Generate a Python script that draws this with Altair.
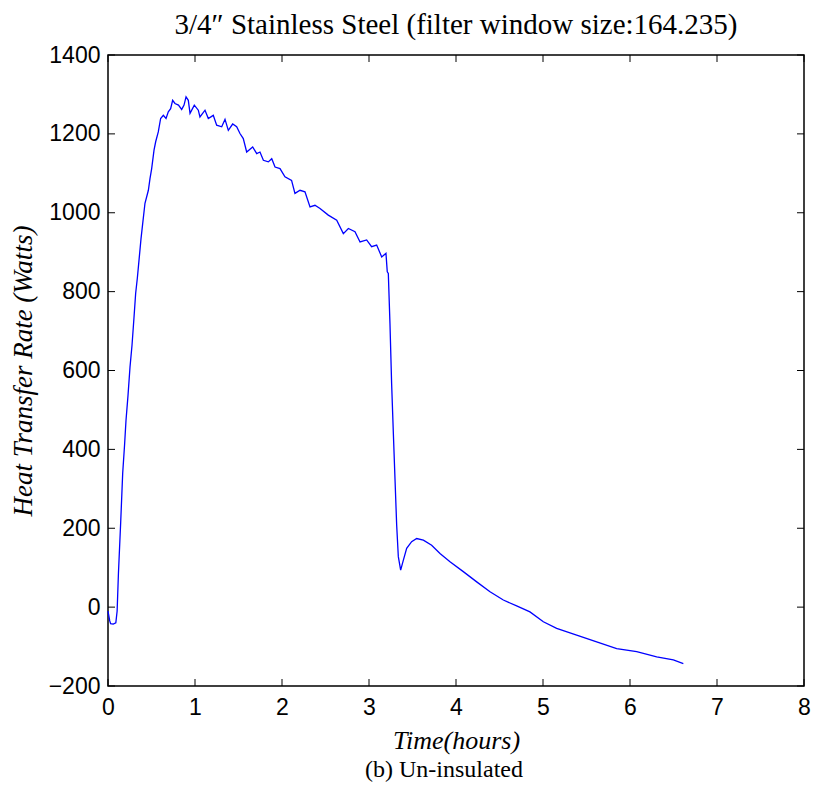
import altair as alt
import pandas as pd

time_h = [0.0, 0.02, 0.03, 0.06, 0.09, 0.105, 0.12, 0.146, 0.169, 0.19, 0.207, 0.23, 0.253,
          0.276, 0.299, 0.318, 0.337, 0.36, 0.379, 0.399, 0.425, 0.464, 0.483, 0.502, 0.529,
          0.548, 0.578, 0.605, 0.636, 0.667, 0.693, 0.72, 0.743, 0.77, 0.81, 0.847, 0.874,
          0.897, 0.923, 0.943, 0.992, 1.038, 1.057, 1.115, 1.153, 1.21, 1.249, 1.307, 1.345,
          1.383, 1.433, 1.479, 1.517, 1.555, 1.594, 1.663, 1.709, 1.747, 1.786, 1.843, 1.882,
          1.92, 1.977, 2.034, 2.11, 2.149, 2.207, 2.264, 2.322, 2.379, 2.437, 2.532, 2.629,
          2.705, 2.763, 2.839, 2.897, 2.973, 3.03, 3.088, 3.146, 3.195, 3.21, 3.222, 3.241,
          3.26, 3.28, 3.3, 3.318, 3.337, 3.364, 3.395, 3.433, 3.49, 3.548, 3.625, 3.72, 3.816,
          3.931, 4.084, 4.238, 4.391, 4.544, 4.697, 4.85, 5.004, 5.157, 5.387, 5.617, 5.847,
          6.077, 6.307, 6.498, 6.613]
heat_w = [-10, -35, -42, -43, -40, -10, 86, 216, 340, 410, 474, 537, 609,
          664, 735, 796, 834, 888, 933, 973, 1024, 1057, 1087, 1112, 1159,
          1180, 1205, 1239, 1247, 1239, 1256, 1264, 1285, 1277, 1273, 1262, 1273,
          1294, 1285, 1252, 1273, 1260, 1243, 1260, 1239, 1247, 1222, 1218, 1237,
          1209, 1225, 1218, 1201, 1188, 1154, 1167, 1150, 1154, 1133, 1129, 1137,
          1116, 1112, 1091, 1082, 1049, 1057, 1053, 1015, 1019, 1011, 994, 981,
          947, 960, 952, 926, 931, 914, 918, 888, 897, 850, 846, 719,
          567, 440, 318, 208, 128, 94, 119, 149, 166, 174, 170, 157, 136,
          115, 90, 64, 39, 18, 3, -12, -37, -54, -71, -88, -105,
          -113, -126, -134, -143]

x_ticks = [0, 1, 2, 3, 4, 5, 6, 7, 8]
y_ticks = [-200, 0, 200, 400, 600, 800, 1000, 1200, 1400]

title_text = "3/4\u2033 Stainless Steel (filter window size:164.235)"
x_title = "Time(hours)"
y_title = "Heat Transfer Rate (Watts)"
caption = "(b) Un-insulated"

W, H = 696, 631
SERIF = "Liberation Serif"
SANS = "Liberation Sans"

df = pd.DataFrame({"t": time_h, "q": heat_w})
xs = alt.Scale(domain=[0, 8], nice=False, zero=False)
ys = alt.Scale(domain=[-200, 1400], nice=False, zero=False)

x_axis = alt.Axis(
    values=x_ticks, title=x_title, grid=False, ticks=False, domain=False, format="d",
    labelFlush=False,
    labelFont=SANS, labelFontSize=23, labelColor="black", labelPadding=10,
    titleFont=SERIF, titleFontStyle="italic", titleFontWeight="normal",
    titleFontSize=26, titleColor="black", titlePadding=8)
y_axis = alt.Axis(
    values=y_ticks, title=y_title, grid=False, ticks=False, domain=False, format="d",
    labelFlush=False,
    labelFont=SANS, labelFontSize=23, labelColor="black", labelPadding=8,
    titleFont=SERIF, titleFontStyle="italic", titleFontWeight="normal",
    titleFontSize=27, titleColor="black", titlePadding=11)

line = alt.Chart(df).mark_line(color="#0000ff", strokeWidth=1.3).encode(
    x=alt.X("t:Q", scale=xs, axis=x_axis, title=x_title),
    y=alt.Y("q:Q", scale=ys, axis=y_axis, title=y_title),
)

xt = pd.DataFrame({"t": x_ticks})
yt = pd.DataFrame({"q": y_ticks})
tick_len = 7
xb = alt.Chart(xt).mark_rule(color="black", strokeWidth=1).encode(
    x=alt.X("t:Q", scale=xs, axis=x_axis, title=x_title), y=alt.value(H), y2=alt.value(H - tick_len))
xtop = alt.Chart(xt).mark_rule(color="black", strokeWidth=1).encode(
    x=alt.X("t:Q", scale=xs, axis=x_axis, title=x_title), y=alt.value(0), y2=alt.value(tick_len))
yl = alt.Chart(yt).mark_rule(color="black", strokeWidth=1).encode(
    y=alt.Y("q:Q", scale=ys, axis=y_axis, title=y_title), x=alt.value(0), x2=alt.value(tick_len))
yr = alt.Chart(yt).mark_rule(color="black", strokeWidth=1).encode(
    y=alt.Y("q:Q", scale=ys, axis=y_axis, title=y_title), x=alt.value(W - tick_len), x2=alt.value(W))

cap = alt.Chart(pd.DataFrame({"c": [caption]})).mark_text(
    font=SERIF, fontSize=24, color="black", baseline="middle", align="center"
).encode(text="c:N", x=alt.value(W / 2 - 12), y=alt.value(H + 84))

chart = alt.layer(line, xb, xtop, yl, yr, cap).properties(
    width=W, height=H,
    title=alt.TitleParams(title_text, font=SERIF, fontSize=29, fontWeight="normal",
                          color="black", offset=4, anchor="middle"),
    autosize=alt.AutoSizeParams(type="none"),
    padding={"left": 100, "top": 47, "right": 21, "bottom": 99},
).configure(background="white").configure_view(stroke="black", strokeWidth=1.5)

chart.save("out.html", embed_options={"renderer": "svg", "actions": False})
